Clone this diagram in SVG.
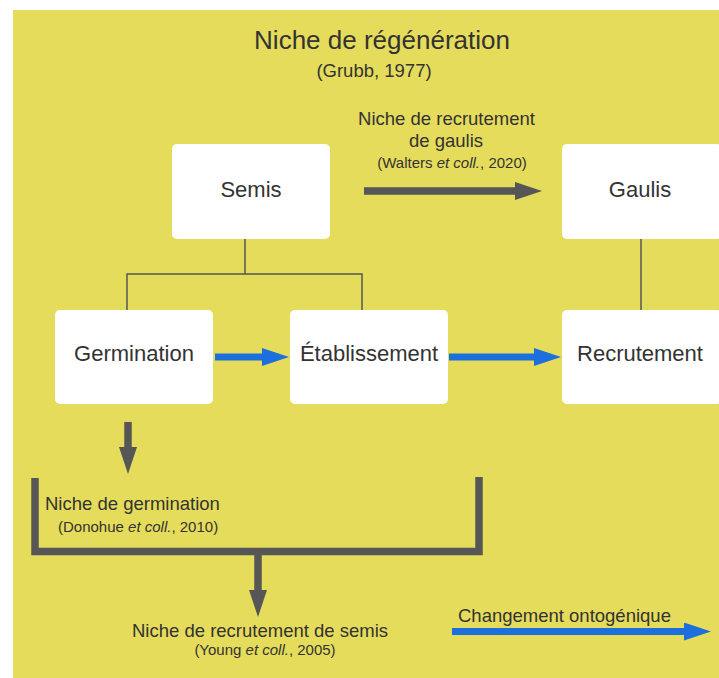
<svg xmlns="http://www.w3.org/2000/svg" width="719" height="678" viewBox="0 0 719 678">
<style>
text{font-family:"Liberation Sans",Arial,sans-serif;fill:#333;}
.box{fill:#fff;}
.bt{font-size:22px;text-anchor:middle;}
.lbl{font-size:18.5px;}
.ref{font-size:15px;}
.thin{fill:none;stroke:#555;stroke-width:1.5;}
.gray{fill:none;stroke:#565656;stroke-width:7.5;}
.blue{fill:none;stroke:#1d6fde;stroke-width:7;}
</style>
<defs>
<marker id="hb" markerUnits="userSpaceOnUse" markerWidth="27" markerHeight="18" viewBox="0 0 27 18" refX="0" refY="9" orient="auto"><path d="M0,0 L27,9 L0,18 z" fill="#1d6fde"/></marker>
<marker id="hg" markerUnits="userSpaceOnUse" markerWidth="27" markerHeight="18" viewBox="0 0 27 18" refX="0" refY="9" orient="auto"><path d="M0,0 L27,9 L0,18 z" fill="#565656"/></marker>
</defs>
<rect x="0" y="0" width="719" height="678" fill="#fff"/>
<rect x="13" y="10" width="706" height="668" fill="#e5dc5b"/>
<g id="titles">
<text x="382" y="49" font-size="26" text-anchor="middle">Niche de régénération</text>
<text x="374" y="77" class="lbl" text-anchor="middle">(Grubb, 1977)</text>
</g>
<g id="connectors">
<path class="thin" d="M245,239 V274 M127,310 V274 H362 V310 M641,239 V310"/>
<line class="blue" x1="215" y1="357" x2="262" y2="357" marker-end="url(#hb)"/>
<line class="blue" x1="449" y1="357" x2="534" y2="357" marker-end="url(#hb)"/>
<line class="gray" x1="364" y1="191" x2="515" y2="191" marker-end="url(#hg)"/>
<line class="gray" x1="128" y1="422" x2="128" y2="447" marker-end="url(#hg)"/>
<path class="gray" d="M35,478 V551.5 H479 V477"/>
<line class="gray" x1="258" y1="551" x2="258" y2="590" marker-end="url(#hg)"/>
<line class="blue" x1="452" y1="631.5" x2="684" y2="631.5" marker-end="url(#hb)"/>
</g>
<g id="semis"><rect class="box" x="172" y="144" width="158" height="95" rx="5"/><text class="bt" x="251" y="197">Semis</text></g>
<g id="gaulis"><rect class="box" x="562" y="144" width="160" height="95" rx="5"/><text class="bt" x="640" y="197">Gaulis</text></g>
<g id="germination"><rect class="box" x="55" y="310" width="158" height="94" rx="5"/><text class="bt" x="134" y="361">Germination</text></g>
<g id="etablissement"><rect class="box" x="290" y="310" width="158" height="94" rx="5"/><text class="bt" x="369" y="361">Établissement</text></g>
<g id="recrutement"><rect class="box" x="562" y="310" width="160" height="94" rx="5"/><text class="bt" x="640" y="361">Recrutement</text></g>
<g id="labels">
<text class="lbl" x="446.5" y="125" text-anchor="middle">Niche de recrutement</text>
<text class="lbl" x="446" y="147" text-anchor="middle">de gaulis</text>
<text class="ref" x="452" y="168" text-anchor="middle">(Walters <tspan font-style="italic">et coll.</tspan>, 2020)</text>
<text class="lbl" x="45" y="510">Niche de germination</text>
<text class="ref" x="58" y="532">(Donohue <tspan font-style="italic">et coll.</tspan>, 2010)</text>
<text class="lbl" x="260" y="637" text-anchor="middle">Niche de recrutement de semis</text>
<text class="ref" x="265" y="655" text-anchor="middle">(Young <tspan font-style="italic">et coll.</tspan>, 2005)</text>
<text class="lbl" x="458" y="622">Changement ontogénique</text>
</g>
</svg>
